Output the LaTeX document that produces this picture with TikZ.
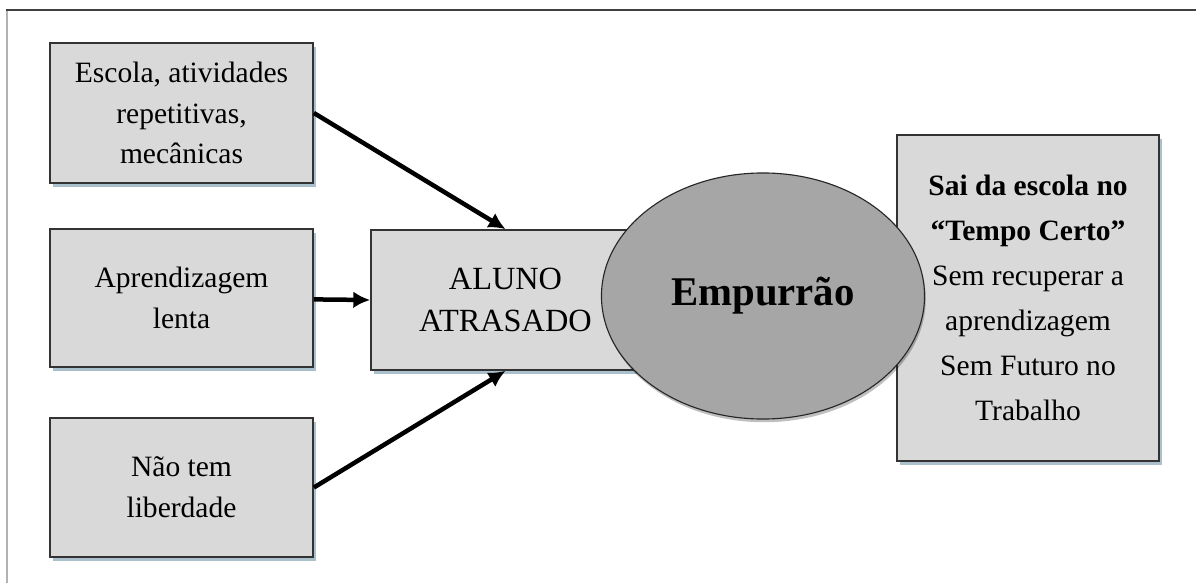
\documentclass[tikz,border=0pt]{standalone}
\usepackage{fontspec}
\setmainfont{Liberation Serif}
\usetikzlibrary{shapes.geometric,shadows,arrows.meta}
\definecolor{boxfill}{RGB}{217,217,217}
\definecolor{ovalfill}{RGB}{166,166,166}
\definecolor{shadowblue}{RGB}{170,192,204}
\tikzset{causebox/.style={draw = black!80, line width = 1.2pt, fill = boxfill,
    minimum width = 6.575cm, minimum height = 3.5cm, align = center,
    font = \fontsize{21}{29}\selectfont,
    drop shadow = {shadow xshift = 0.07cm, shadow yshift = -0.1cm,
      fill = shadowblue, opacity = 1}},
  push/.style={-{Latex[length = 0.42cm, width = 0.42cm]}, line width = 3.2pt}
}
\begin{document}
\begin{tikzpicture}[x = 0.025cm, y = -0.025cm]
    \useasboundingbox (0, 0) rectangle (1196, 583);
    \draw[black!30, line width = 1.6pt] (7, 583) -- (7, 10);
    \draw[black!75, line width = 1.6pt] (6.4, 10) -- (1196, 10);
    \draw (181.5, 113) node[causebox]
    (esc) {Escola, atividades\\repetitivas,\\mecânicas};
    \draw (181.5, 298) node[causebox, minimum height = 3.45cm]
    (apr) {Aprendizagem\\lenta};
    \draw (181.5, 487.5) node[causebox, minimum height = 3.475cm]
    (nao) {Não tem\\liberdade};
    \draw (505.5, 300) node[causebox, minimum width = 6.725cm,
    font = \fontsize{23}{30}\selectfont]
    (aluno) {ALUNO\\ATRASADO};
    \draw (1028, 298) node[causebox, minimum width = 6.55cm,
    minimum height = 8.15cm, font = \fontsize{21}{32}\selectfont]
    (saida) {\textbf{Sai da escola no}\\\textbf{“Tempo Certo”}\\Sem recuperar a\\aprendizagem\\Sem Futuro no\\Trabalho};
    \draw (763, 296) node[ellipse, draw = black!85, line width = 0.8pt,
    fill = ovalfill, minimum width = 8.075cm, minimum height = 6.15cm,
    drop shadow = {shadow xshift = 0.03cm, shadow yshift = -0.08cm,
      fill = black, opacity = 0.25},
    font = \fontsize{29}{34}\selectfont\bfseries]
    (emp) {Empurrão};
    \draw[push] (esc.east) -- (aluno.north);
    \draw[push] (apr) -- (aluno.west);
    \draw[push] (nao.east) -- (aluno.south);
  \end{tikzpicture}
\end{document}
